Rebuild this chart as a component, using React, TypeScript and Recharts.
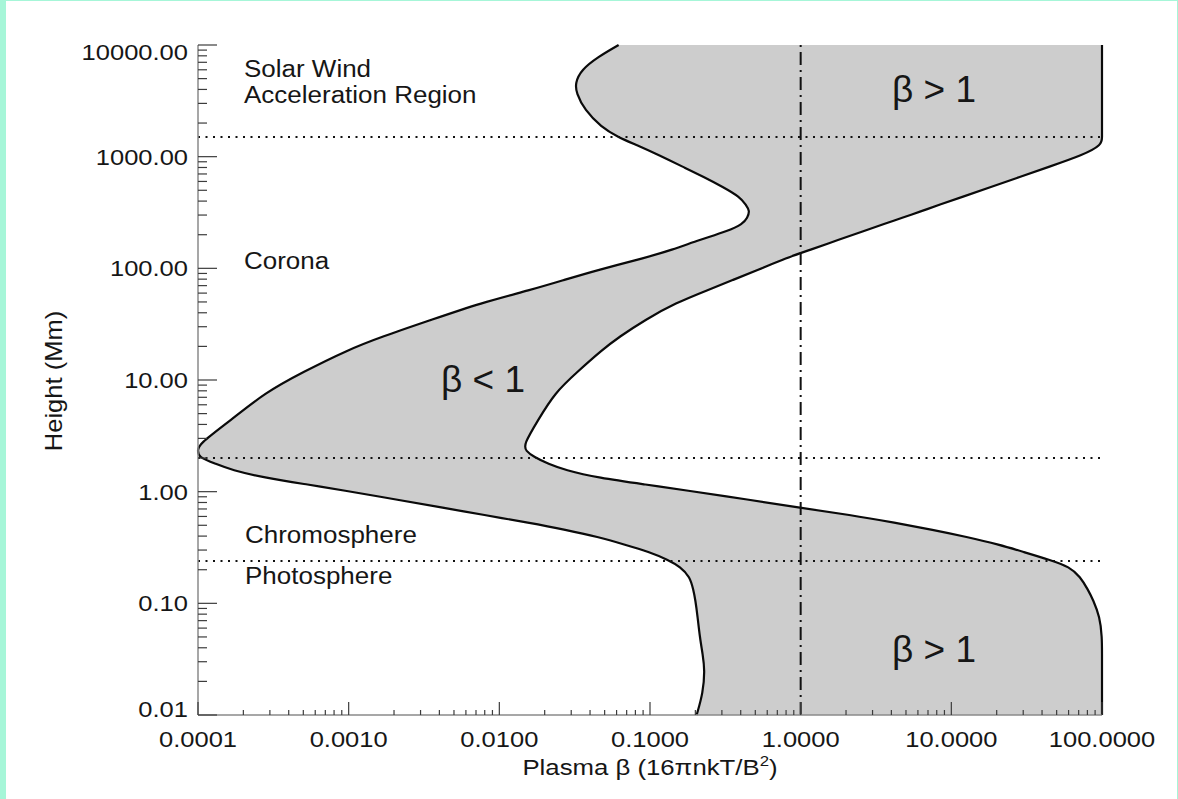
import React from 'react';
import { ComposedChart, Area, XAxis, YAxis, ReferenceLine } from 'recharts';

// height above photosphere (Mm), top to bottom
const HEIGHTS = [
  10000, 7810, 5975, 4570, 3720, 2620, 1845, 1500, 1273, 1036,
  809, 658, 535, 436, 370, 326, 283, 250, 216, 180,
  146, 124, 96.8, 78.8, 64.1, 49.0, 34.5, 24.3, 18.6, 11.8,
  7.66, 4.39, 2.63, 2.32, 2.05, 1.77, 1.567, 1.33, 1.151, 1.037,
  0.845, 0.716, 0.62, 0.526, 0.455, 0.394, 0.334, 0.289, 0.245, 0.212,
  0.173, 0.132, 0.1074, 0.0757, 0.0501, 0.0346, 0.0254, 0.0158, 0.01,
];

// left edge of the shaded band (plasma beta)
const BETA_LOW = [
  0.0619, 0.0451, 0.0349, 0.0319, 0.0324, 0.0368, 0.0474, 0.0612, 0.0813, 0.114,
  0.166, 0.228, 0.305, 0.395, 0.434, 0.46, 0.443, 0.413, 0.329, 0.214,
  0.139, 0.0925, 0.0451, 0.027, 0.0162, 0.00755, 0.00352, 0.00164, 0.000988, 0.000498,
  0.000277, 0.000166, 0.0001, 0.0001, 0.0001, 0.000132, 0.000166, 0.000277, 0.000553, 0.000889,
  0.00212, 0.00427, 0.00785, 0.0158, 0.0277, 0.0451, 0.0689, 0.0984, 0.132, 0.159,
  0.184, 0.194, 0.2, 0.207, 0.214, 0.224, 0.231, 0.225, 0.204,
];

// right edge of the shaded band (plasma beta)
const BETA_HIGH = [
  100, 100, 100, 100, 100, 100, 100, 100, 100, 75.0,
  44.2, 28.4, 18.3, 11.8, 8.3, 6.37, 4.69, 3.6, 2.64, 1.78,
  1.15, 0.805, 0.523, 0.356, 0.243, 0.148, 0.0925, 0.0624, 0.0481, 0.0329,
  0.0233, 0.0181, 0.01445, 0.015, 0.0169, 0.0212, 0.0271, 0.0451, 0.0968, 0.166,
  0.46, 0.989, 2.12, 4.26, 7.56, 12.6, 21.0, 30.0, 45.1, 61.1,
  71.6, 80.9, 87.3, 96.7, 100, 100, 100, 100, 100,
];

const X_TICKS = [0.0001, 0.001, 0.01, 0.1, 1, 10, 100];
const X_TICK_LABELS = ['0.0001', '0.0010', '0.0100', '0.1000', '1.0000', '10.0000', '100.0000'];
const Y_TICKS = [0.01, 0.1, 1, 10, 100, 1000, 10000];
const Y_TICK_LABELS = ['0.01', '0.10', '1.00', '10.00', '100.00', '1000.00', '10000.00'];
const MINOR_STEPS = [2, 3, 4, 5, 6, 7, 8, 9];

const LAYER_BOUNDS = [1500, 2, 0.24];
const BETA_UNITY = 1;

const FONT = '"Liberation Sans", Arial, Helvetica, sans-serif';
const TEXT = '#161616';
const AXIS_COLOR = '#8a8a8a';
const TICK_COLOR = '#3c3c3c';

const withMinor = (decades: number[]) =>
  decades.flatMap((d, i) => (i === decades.length - 1 ? [d] : [d, ...MINOR_STEPS.map((m) => d * m)]));

const majorIndex = (v: number, majors: number[]) => majors.findIndex((m) => Math.abs(v / m - 1) < 1e-6);

const data = HEIGHTS.map((h, i) => ({ h, range: [BETA_LOW[i], BETA_HIGH[i]] }));

function Label({ x, y, children, size = 23, sx = 1.13, anchor = 'start', rotate = 0 }: any) {
  const t = `translate(${x},${y})${rotate ? ` rotate(${rotate})` : ''} scale(${sx},1)`;
  return (
    <text transform={t} fontSize={size} fontFamily={FONT} fill={TEXT} textAnchor={anchor}>
      {children}
    </text>
  );
}

function BottomTick({ x, y, payload }: any) {
  const i = majorIndex(payload.value, X_TICKS);
  return (
    <g>
      <line x1={x} y1={y} x2={x} y2={y - (i >= 0 ? 13 : 5)} stroke={TICK_COLOR} strokeWidth={1.2} />
      {i >= 0 && (
        <Label x={x} y={y + 32} size={22} sx={1.16} anchor="middle">
          {X_TICK_LABELS[i]}
        </Label>
      )}
    </g>
  );
}

function TopTick({ x, y, payload }: any) {
  const i = majorIndex(payload.value, X_TICKS);
  return <line x1={x} y1={y} x2={x} y2={y + (i >= 0 ? 13 : 5)} stroke={TICK_COLOR} strokeWidth={1.2} />;
}

function LeftTick({ x, y, payload }: any) {
  const i = majorIndex(payload.value, Y_TICKS);
  const shift = i === Y_TICKS.length - 1 ? 7 : i === 0 ? -6 : 0;
  return (
    <g>
      <line x1={x} y1={y} x2={x + (i >= 0 ? 19 : 9)} y2={y} stroke={TICK_COLOR} strokeWidth={1.2} />
      {i >= 0 && (
        <Label x={x - 10} y={y + 8 + shift} size={22} sx={1.16} anchor="end">
          {Y_TICK_LABELS[i]}
        </Label>
      )}
    </g>
  );
}

function RightTick({ x, y, payload }: any) {
  const i = majorIndex(payload.value, Y_TICKS);
  return <line x1={x} y1={y} x2={x - (i >= 0 ? 19 : 9)} y2={y} stroke={TICK_COLOR} strokeWidth={1.2} />;
}

// region names and axis titles, drawn above the plot
function Annotations() {
  return (
    <svg
      width={1178}
      height={799}
      style={{ position: 'absolute', left: 0, top: 0, pointerEvents: 'none' }}
    >
      <Label x={244} y={77}>Solar Wind</Label>
      <Label x={244} y={103}>Acceleration Region</Label>
      <Label x={244} y={269}>Corona</Label>
      <Label x={245} y={543}>Chromosphere</Label>
      <Label x={245} y={584}>Photosphere</Label>
      <Label x={441} y={392} size={37} sx={1}>β &lt; 1</Label>
      <Label x={892} y={102} size={37} sx={1}>β &gt; 1</Label>
      <Label x={892} y={662} size={37} sx={1}>β &gt; 1</Label>
      <Label x={650} y={775} anchor="middle" sx={1.12}>
        Plasma β (16πnkT/B<tspan dy={-9} fontSize={15}>2</tspan>
        <tspan dy={9}>)</tspan>
      </Label>
      <Label x={62} y={381} anchor="middle" rotate={-90} sx={1.11}>
        Height (Mm)
      </Label>
    </svg>
  );
}

export default function App() {
  const xAll = withMinor(X_TICKS);
  const yAll = withMinor(Y_TICKS);
  return (
    <div style={{ position: 'fixed', left: 0, top: 0, width: 1178, height: 799, background: '#a6f6d8' }}>
      <div style={{ position: 'absolute', left: 6, top: 1, width: 1171, height: 798, background: '#ffffff' }} />
      <div style={{ position: 'absolute', left: 0, top: 0 }}>
        <ComposedChart
          width={1178}
          height={799}
          data={data}
          layout="vertical"
          margin={{ top: 45, right: 76, bottom: 24, left: 8 }}
        >
          <XAxis
            type="number"
            scale="log"
            domain={[0.0001, 100]}
            ticks={xAll}
            interval={0}
            tickSize={0}
            tickMargin={0}
            tickLine={false}
            axisLine={{ stroke: AXIS_COLOR, strokeWidth: 1.5 }}
            tick={(p: any) => <BottomTick {...p} />}
            height={60}
          />
          <XAxis
            xAxisId="top"
            orientation="top"
            type="number"
            scale="log"
            domain={[0.0001, 100]}
            ticks={xAll}
            interval={0}
            tickSize={0}
            tickMargin={0}
            tickLine={false}
            axisLine={{ stroke: AXIS_COLOR, strokeWidth: 1.5 }}
            tick={(p: any) => <TopTick {...p} />}
            height={0}
          />
          <YAxis
            dataKey="h"
            type="number"
            scale="log"
            reversed
            domain={[0.01, 10000]}
            ticks={yAll}
            interval={0}
            tickSize={0}
            tickMargin={0}
            tickLine={false}
            axisLine={{ stroke: AXIS_COLOR, strokeWidth: 1.5 }}
            tick={(p: any) => <LeftTick {...p} />}
            width={190}
          />
          <YAxis
            yAxisId="right"
            orientation="right"
            type="number"
            scale="log"
            reversed
            domain={[0.01, 10000]}
            ticks={yAll}
            interval={0}
            tickSize={0}
            tickMargin={0}
            tickLine={false}
            axisLine={{ stroke: AXIS_COLOR, strokeWidth: 1.5 }}
            tick={(p: any) => <RightTick {...p} />}
            width={0}
          />
          <Area
            dataKey="range"
            type="basis"
            fill="#cdcdcd"
            fillOpacity={1}
            stroke="#0a0a0a"
            strokeWidth={2.2}
            dot={false}
            activeDot={false}
            isAnimationActive={false}
          />
          {LAYER_BOUNDS.map((h) => (
            <ReferenceLine key={h} y={h} stroke="#111" strokeWidth={2} strokeDasharray="2 5.5" />
          ))}
          <ReferenceLine x={BETA_UNITY} stroke="#111" strokeWidth={2} strokeDasharray="13 5 2 5" />
        </ComposedChart>
      </div>
      <Annotations />
    </div>
  );
}
